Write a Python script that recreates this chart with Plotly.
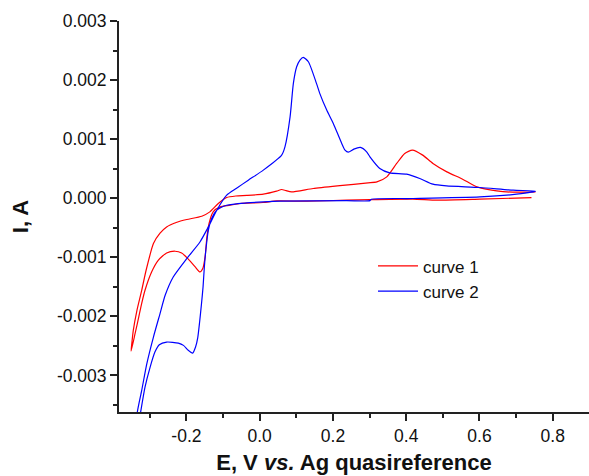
import plotly.graph_objects as go

# curve 1 (red): cathodic branch from right end to -0.35 V, then anodic branch back to 0.75 V
curve1_E = [0.742, 0.601, 0.484, 0.418, 0.301, 0.238, 0.129, 0.047, 0.009, -0.054, -0.081,
            -0.108, -0.127, -0.138, -0.144, -0.149, -0.155, -0.163, -0.176, -0.196, -0.213,
            -0.231, -0.254, -0.277, -0.295, -0.313, -0.322, -0.330, -0.340, -0.351,
            -0.349, -0.345, -0.335, -0.322, -0.310, -0.290, -0.272, -0.254, -0.226, -0.199,
            -0.158, -0.136, -0.113, -0.090, -0.065, -0.035, 0.010, 0.046, 0.060, 0.072,
            0.087, 0.146, 0.219, 0.296, 0.320, 0.347, 0.374, 0.396, 0.417, 0.445, 0.473,
            0.511, 0.554, 0.593, 0.647, 0.691, 0.753]
curve1_I = [0.000010, -0.000017, -0.000034, -0.000017, -0.000025, -0.000034, -0.000051,
            -0.000046, -0.000073, -0.000090, -0.000120, -0.000147, -0.000232, -0.000424,
            -0.000656, -0.000995, -0.001186, -0.001249, -0.001164, -0.001022, -0.000927,
            -0.000898, -0.000927, -0.001051, -0.001249, -0.001559, -0.001780, -0.002010,
            -0.002290, -0.002588,
            -0.002458, -0.002237, -0.001898, -0.001559, -0.001220, -0.000768, -0.000593,
            -0.000486, -0.000407, -0.000361, -0.000305, -0.000232, -0.000090, 0.000012,
            0.000037, 0.000046, 0.000068, 0.000119, 0.000147, 0.000127, 0.000107, 0.000164,
            0.000212, 0.000259, 0.000276, 0.000361, 0.000588, 0.000758, 0.000814, 0.000729,
            0.000588, 0.000446, 0.000322, 0.000192, 0.000124, 0.000102, 0.000107]

# curve 2 (blue): cathodic branch from right end down past the axis, then anodic branch
curve2_E = [0.753, 0.701, 0.601, 0.419, 0.305, 0.301, 0.237, 0.055, 0.010, -0.035, -0.090,
            -0.117, -0.131, -0.140, -0.146, -0.151, -0.1545, -0.159, -0.164, -0.169, -0.175,
            -0.183, -0.195, -0.208, -0.222, -0.254, -0.274, -0.286, -0.299, -0.313, -0.325,
            -0.333, -0.341,
            -0.337, -0.334, -0.322, -0.308, -0.290, -0.272, -0.258, -0.236, -0.199, -0.163,
            -0.140, -0.117, -0.090, -0.063, -0.031, 0.010, 0.060, 0.069, 0.083, 0.092,
            0.101, 0.110, 0.119, 0.133, 0.155, 0.164, 0.183, 0.201, 0.224, 0.233, 0.242,
            0.257, 0.275, 0.292, 0.301, 0.328, 0.355, 0.401, 0.437, 0.473, 0.510, 0.601,
            0.692, 0.753]
curve2_I = [0.000119, 0.000068, 0.000022, -0.000005, -0.000017, -0.000042, -0.000042,
            -0.000051, -0.000063, -0.000080, -0.000119, -0.000203, -0.000344, -0.000542,
            -0.000825, -0.001164, -0.001500, -0.001800, -0.002100, -0.002360, -0.002520,
            -0.002622, -0.002576, -0.002492, -0.002453, -0.002436, -0.002480, -0.002605,
            -0.002859, -0.003198, -0.003622, -0.003932, -0.004186,
            -0.003898, -0.003622, -0.003254, -0.002802, -0.002351, -0.001954, -0.001644,
            -0.001334, -0.001022, -0.000741, -0.000486, -0.000203, 0.000051, 0.000169,
            0.000305, 0.000475, 0.000729, 0.000869, 0.001378, 0.001944, 0.002225, 0.002339,
            0.002385, 0.002310, 0.001944, 0.001775, 0.001492, 0.001266, 0.000927, 0.000814,
            0.000780, 0.000831, 0.000859, 0.000785, 0.000700, 0.000503, 0.000429, 0.000407,
            0.000334, 0.000237, 0.000208, 0.000181, 0.000136, 0.000119]

x_tickvals = [-0.2, 0.0, 0.2, 0.4, 0.6, 0.8]
x_ticktext = ["-0.2", "0.0", "0.2", "0.4", "0.6", "0.8"]
y_tickvals = [-0.003, -0.002, -0.001, 0.0, 0.001, 0.002, 0.003]
y_ticktext = ["-0.003", "-0.002", "-0.001", "0.000", "0.001", "0.002", "0.003"]

FONT = "Liberation Sans, Arial, sans-serif"
AX = "#222222"

fig = go.Figure()
fig.add_trace(go.Scatter(x=curve1_E, y=curve1_I, mode="lines", name="curve 1",
                         line=dict(color="#ff0000", width=1.2, shape="spline", smoothing=0.6)))
fig.add_trace(go.Scatter(x=curve2_E, y=curve2_I, mode="lines", name="curve 2",
                         line=dict(color="#0000ff", width=1.2, shape="spline", smoothing=0.6)))

axis_common = dict(showgrid=False, zeroline=False, showline=True, linecolor=AX, linewidth=2,
                   ticks="outside", ticklen=7, tickwidth=1.5, tickcolor=AX,
                   tickfont=dict(family=FONT, size=17.5, color="#111111"))

fig.update_layout(
    width=589, height=476,
    margin=dict(l=119, r=0, t=21, b=64),
    paper_bgcolor="white", plot_bgcolor="white",
    xaxis=dict(range=[-0.384, 0.899], tickvals=x_tickvals, ticktext=x_ticktext,
               minor=dict(dtick=0.1, tick0=0, ticks="outside", ticklen=4, tickwidth=1.5,
                          tickcolor=AX, showgrid=False),
               title=dict(text="E, V <i>vs.</i> Ag quasireference",
                          font=dict(family=FONT, size=22, color="#111111"), standoff=10),
               **axis_common),
    yaxis=dict(range=[-0.00362, 0.003], tickvals=y_tickvals, ticktext=y_ticktext,
               minor=dict(dtick=0.0005, tick0=0, ticks="outside", ticklen=4, tickwidth=1.5,
                          tickcolor=AX, showgrid=False),
               title=dict(text="I, A", font=dict(family=FONT, size=22, color="#111111"),
                          standoff=22),
               **axis_common),
    legend=dict(x=(373 - 119) / 470, y=(476 - 21 - 257) / 391 - 0.088, xanchor="left",
                yanchor="top", bgcolor="rgba(0,0,0,0)", borderwidth=0, itemwidth=40,
                font=dict(family=FONT, size=17, color="#111111"), tracegroupgap=0),
    showlegend=True,
)
fig.update_xaxes(title_font_weight="bold")
fig.update_yaxes(title_font_weight="bold")

fig.write_html("out.html")
